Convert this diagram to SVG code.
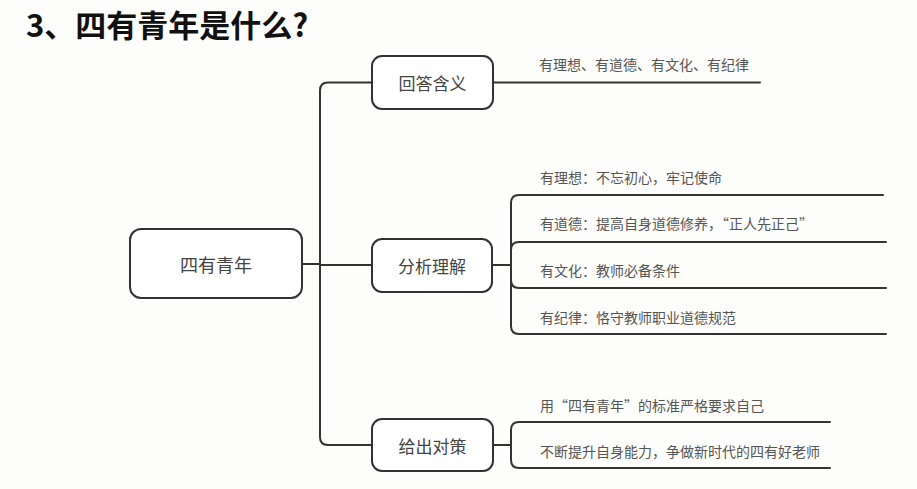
<svg xmlns="http://www.w3.org/2000/svg" width="917" height="489" viewBox="0 0 917 489">
<style>
.bg{fill:#fdfdfb}
.node{fill:#ffffff;stroke:#333;stroke-width:2}
.ln{fill:none;stroke:#333;stroke-width:2;stroke-linecap:round}
.nt{font-family:"Noto Sans CJK SC","Noto Sans",sans-serif;font-size:17px;fill:#444;text-anchor:middle;dominant-baseline:central}
.lt{font-family:"Noto Sans CJK SC","Noto Sans",sans-serif;font-size:14px;fill:#555}
.title{font-family:"Noto Sans CJK SC","Noto Sans",sans-serif;font-size:31px;font-weight:bold;fill:#111}
</style>
<rect class="bg" x="0" y="0" width="917" height="489"/>
<text class="title" x="26" y="37">3、四有青年是什么?</text>
<g id="connectors">
<path class="ln" d="M302,264 H320"/>
<path class="ln" d="M372,82.5 H328 Q320,82.5 320,90.5 V437 Q320,445 328,445 H372"/>
<path class="ln" d="M320,265 H372"/>
<path class="ln" d="M493,82.5 H760"/>
<path class="ln" d="M492,265 H511"/>
<path class="ln" d="M883,195 H519 Q511,195 511,203 V326 Q511,334 519,334 H886"/>
<path class="ln" d="M886,242 H519 Q511,242 511,250 V280 Q511,288 519,288 H886"/>
<path class="ln" d="M493,445 H511"/>
<path class="ln" d="M830,422 H519 Q511,422 511,430 V460 Q511,468 519,468 H830"/>
</g>
<g id="root">
<rect class="node" x="130" y="229" width="172" height="69" rx="11"/>
<text class="nt" x="216" y="264" style="font-size:18px">四有青年</text>
</g>
<g id="n1">
<rect class="node" x="372" y="56" width="121" height="53" rx="10"/>
<text class="nt" x="432.5" y="82.5">回答含义</text>
</g>
<g id="n2">
<rect class="node" x="372" y="239" width="120" height="53" rx="10"/>
<text class="nt" x="432" y="265.5">分析理解</text>
</g>
<g id="n3">
<rect class="node" x="372" y="419" width="121" height="52" rx="10"/>
<text class="nt" x="432.5" y="445">给出对策</text>
</g>
<g id="l1"><text class="lt" x="539" y="70">有理想、有道德、有文化、有纪律</text></g>
<g id="l2"><text class="lt" x="540" y="183">有理想：不忘初心，牢记使命</text></g>
<g id="l3"><text class="lt" x="540" y="229">有道德：提高自身道德修养，“正人先正己”</text></g>
<g id="l4"><text class="lt" x="540" y="276">有文化：教师必备条件</text></g>
<g id="l5"><text class="lt" x="540" y="323">有纪律：恪守教师职业道德规范</text></g>
<g id="l6"><text class="lt" x="540" y="411">用“四有青年”的标准严格要求自己</text></g>
<g id="l7"><text class="lt" x="540" y="457">不断提升自身能力，争做新时代的四有好老师</text></g>
</svg>
